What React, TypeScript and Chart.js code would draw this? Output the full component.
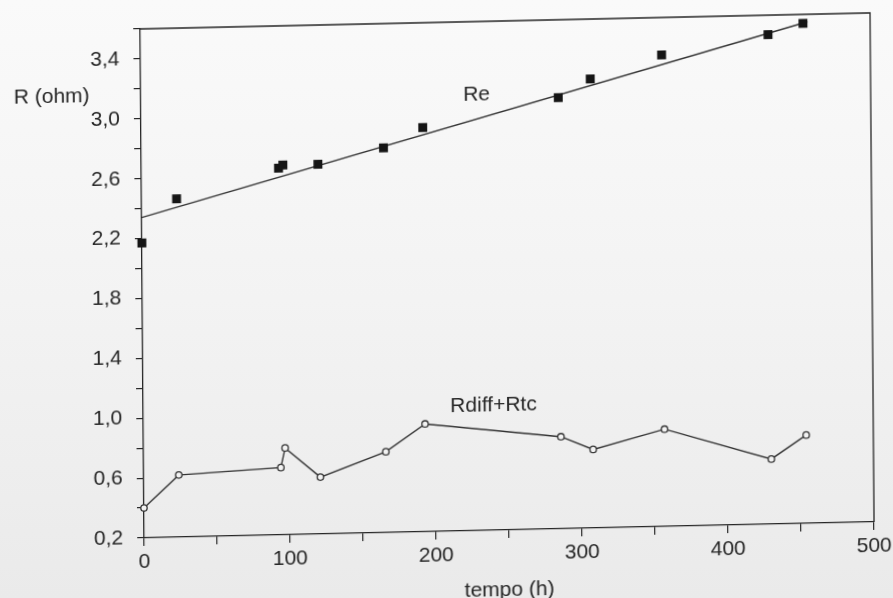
import React, { useEffect, useRef } from "react";
import { Chart, registerables } from "chart.js";

Chart.register(...registerables);

// time (h)
const tempo: number[] = [0, 24, 94, 97, 121, 166, 193, 286, 308, 357, 430, 454];
// Re (ohm), filled squares
const reValues: number[] = [2.17, 2.46, 2.65, 2.67, 2.67, 2.77, 2.9, 3.08, 3.2, 3.35, 3.47, 3.54];
// Rdiff+Rtc (ohm), open circles
const rdiffValues: number[] = [0.4, 0.615, 0.65, 0.78, 0.58, 0.74, 0.92, 0.815, 0.725, 0.85, 0.635, 0.79];
// straight fit line through Re: endpoints
const fitX: number[] = [0, 457];
const fitY: number[] = [2.34, 3.55];

const labelRe = { text: "Re", x: 230, y: 3.11 };
const labelRdiff = { text: "Rdiff+Rtc", x: 240, y: 1.036 };
const yTitle = "R (ohm)";
const xTitle = "tempo (h)";

const FONT = "'Liberation Sans', Arial, Helvetica, sans-serif";
const INK = "#262626";

export default function App() {
  const ref = useRef<HTMLCanvasElement | null>(null);

  useEffect(() => {
    if (!ref.current) return;

    const textPlugin = {
      id: "annot",
      afterDraw(chart: any) {
        const { ctx, chartArea, scales } = chart;
        const xs = scales.x;
        const ys = scales.y;
        ctx.save();
        // frame: top and right
        ctx.strokeStyle = INK;
        ctx.lineWidth = 1.3;
        ctx.beginPath();
        ctx.moveTo(chartArea.left, chartArea.top);
        ctx.lineTo(chartArea.right, chartArea.top);
        ctx.lineTo(chartArea.right, chartArea.bottom);
        ctx.stroke();
        ctx.fillStyle = INK;
        ctx.font = `21px ${FONT}`;
        ctx.textBaseline = "middle";
        ctx.textAlign = "center";
        ctx.fillText(labelRe.text, xs.getPixelForValue(labelRe.x), ys.getPixelForValue(labelRe.y));
        ctx.fillText(labelRdiff.text, xs.getPixelForValue(labelRdiff.x), ys.getPixelForValue(labelRdiff.y));
        ctx.textAlign = "left";
        ctx.fillText(yTitle, chartArea.left - 127, ys.getPixelForValue(3.158));
        ctx.restore();
      },
    };

    const chart = new Chart(ref.current, {
      type: "scatter",
      data: {
        datasets: [
          {
            label: "fit",
            data: fitX.map((x, i) => ({ x, y: fitY[i] })),
            showLine: true,
            borderColor: "#333",
            borderWidth: 1.4,
            pointRadius: 0,
            clip: false,
            order: 3,
          },
          {
            label: "Re",
            data: tempo.map((x, i) => ({ x, y: reValues[i] })),
            showLine: false,
            pointStyle: "rect",
            pointRadius: 6.3,
            backgroundColor: "#151515",
            borderColor: "#151515",
            borderWidth: 0,
            clip: false,
            order: 1,
          },
          {
            label: "Rdiff+Rtc",
            data: tempo.map((x, i) => ({ x, y: rdiffValues[i] })),
            showLine: true,
            borderColor: "#333",
            borderWidth: 1.4,
            pointStyle: "circle",
            pointRadius: 3.2,
            pointBackgroundColor: "#f3f3f3",
            pointBorderColor: "#333",
            pointBorderWidth: 1.3,
            clip: false,
            order: 2,
          },
        ],
      },
      options: {
        responsive: false,
        animation: false,
        devicePixelRatio: 1,
        layout: { padding: { left: 0, top: 32, right: 30, bottom: 19 } },
        plugins: {
          legend: { display: false },
          tooltip: { enabled: false },
          title: { display: false },
        },
        scales: {
          x: {
            type: "linear",
            min: 0,
            max: 500,
            afterFit(scale: any) {
              scale.height = 80;
            },
            border: { display: true, color: INK, width: 1.3 },
            grid: {
              display: true,
              drawOnChartArea: false,
              drawTicks: true,
              tickLength: 8,
              color: INK,
              lineWidth: 1.2,
            },
            ticks: {
              stepSize: 50,
              autoSkip: false,
              maxRotation: 0,
              padding: 4,
              color: INK,
              font: { family: FONT, size: 21 },
              callback: (v: any) => (Math.round(Number(v)) % 100 === 0 ? String(Math.round(Number(v))) : ""),
            },
            title: {
              display: true,
              text: xTitle,
              color: INK,
              font: { family: FONT, size: 21 },
              padding: { top: 0, bottom: 7 },
            },
          },
          y: {
            type: "linear",
            min: 0.2,
            max: 3.6,
            afterFit(scale: any) {
              scale.width = 140;
            },
            border: { display: true, color: INK, width: 1.3 },
            grid: {
              display: true,
              drawOnChartArea: false,
              drawTicks: true,
              tickLength: 7,
              color: INK,
              lineWidth: 1.2,
            },
            ticks: {
              stepSize: 0.2,
              autoSkip: false,
              padding: 14,
              color: INK,
              font: { family: FONT, size: 21 },
              callback: (v: any) => {
                const k = Math.round(Number(v) * 10);
                return k % 4 === 2 ? (k / 10).toFixed(1).replace(".", ",") : "";
              },
            },
          },
        },
      },
      plugins: [textPlugin],
    });

    return () => chart.destroy();
  }, []);

  return (
    <div
      style={{
        position: "fixed",
        left: 0,
        top: 0,
        width: 893,
        height: 598,
        overflow: "hidden",
        background: "linear-gradient(to bottom, #fafafa 0%, #f3f3f3 50%, #eaeaea 100%)",
      }}
    >
      <canvas
        ref={ref}
        width={900}
        height={640}
        style={{
          display: "block",
          width: 900,
          height: 640,
          transform: "skew(0.45deg, -1.256deg)",
          transformOrigin: "0 0",
        }}
      />
    </div>
  );
}
